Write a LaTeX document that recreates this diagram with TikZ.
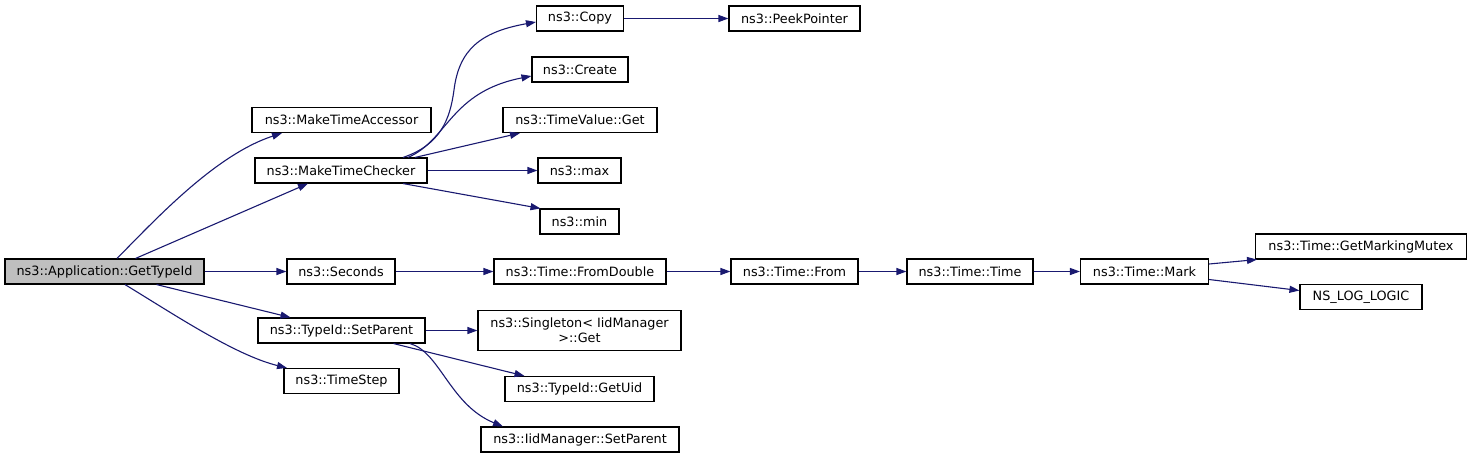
\documentclass[tikz,border=0pt]{standalone}
\usepackage{fontspec}
\setmainfont{DejaVu Sans}
\usetikzlibrary{arrows.meta}
\definecolor{edgecol}{HTML}{191970}
\definecolor{rootfill}{HTML}{BFBFBF}
\begin{document}
\begin{tikzpicture}[x=1pt,y=-1pt,
  box/.style={draw=black, line width=1.1pt, fill=white, inner sep=0pt,
    minimum height=25pt, font=\fontsize{12.8}{14.7}\selectfont, align=center},
  call/.style={draw=edgecol, line width=1.1pt, -{Triangle[length=10pt,width=7pt]}},
]
\useasboundingbox (0,0) rectangle (1472,459);

\node[box, fill=rootfill, minimum width=199pt] (gt) at (104.5,271.5) {ns3::Application::GetTypeId};
\node[box, minimum width=179pt] (mta) at (341.5,120) {ns3::MakeTimeAccessor};
\node[box, minimum width=172pt] (mtc) at (341,170.5) {ns3::MakeTimeChecker};
\node[box, minimum width=108pt] (sec) at (341,271.5) {ns3::Seconds};
\node[box, minimum width=167pt] (sp) at (341.5,330.5) {ns3::TypeId::SetParent};
\node[box, minimum width=115pt] (ts) at (341.5,381) {ns3::TimeStep};
\node[box, minimum width=87pt] (copy) at (580,18.5) {ns3::Copy};
\node[box, minimum width=131pt] (peek) at (794.5,18.5) {ns3::PeekPointer};
\node[box, minimum width=96pt] (create) at (580,69.5) {ns3::Create};
\node[box, minimum width=154pt] (tvg) at (580,120) {ns3::TimeValue::Get};
\node[box, minimum width=83pt] (max) at (579.5,170.5) {ns3::max};
\node[box, minimum width=79pt] (min) at (579.5,221.5) {ns3::min};
\node[box, minimum width=172pt] (fd) at (580,271.5) {ns3::Time::FromDouble};
\node[box, minimum width=127pt] (from) at (794.5,271.5) {ns3::Time::From};
\node[box, minimum width=203pt, minimum height=40pt] (single) at (579.5,330.5) {ns3::Singleton< IidManager\\>::Get};
\node[box, minimum width=149pt] (uid) at (579.5,389) {ns3::TypeId::GetUid};
\node[box, minimum width=198pt] (iid) at (580,439.5) {ns3::IidManager::SetParent};
\node[box, minimum width=126pt] (tt) at (970,271.5) {ns3::Time::Time};
\node[box, minimum width=128pt] (mark) at (1144.5,271.5) {ns3::Time::Mark};
\node[box, minimum width=211pt] (gmm) at (1361,246.5) {ns3::Time::GetMarkingMutex};
\node[box, minimum width=122pt] (nll) at (1361,297) {NS\_LOG\_LOGIC};

% from GetTypeId
\draw[call] ([xshift=12.5pt]gt.north) .. controls (155,220) and (215,155) .. ([xshift=-59.5pt]mta.south);
\draw[call] ([xshift=31pt]gt.north) -- ([xshift=-33pt]mtc.south);
\draw[call] (gt.east) -- (sec.west);
\draw[call] ([xshift=52pt]gt.south) -- ([xshift=-51pt]sp.north);
\draw[call] ([xshift=20.5pt]gt.south) .. controls (175,315) and (235,355) .. ([xshift=-54.5pt]ts.north);

% from MakeTimeChecker
\draw[call] ([xshift=62pt]mtc.north) .. controls (440,145) and (450,120) .. (454,90)
  .. controls (459,50) and (480,32) .. ([yshift=-3.5pt]copy.west);
\draw[call] ([xshift=67pt]mtc.north) .. controls (448,140) and (450,92) .. ([yshift=-6.5pt]create.west);
\draw[call] ([xshift=74pt]mtc.north) -- ([xshift=-60pt]tvg.south);
\draw[call] (mtc.east) -- (max.west);
\draw[call] ([xshift=62pt]mtc.south) -- ([xshift=-39pt]min.north);

\draw[call] (copy.east) -- (peek.west);

% time chain
\draw[call] (sec.east) -- (fd.west);
\draw[call] (fd.east) -- (from.west);
\draw[call] (from.east) -- (tt.west);
\draw[call] (tt.east) -- (mark.west);
\draw[call] ([yshift=7.5pt]mark.east) -- ([xshift=-104pt]gmm.south);
\draw[call] ([yshift=-8pt]mark.east) -- ([yshift=6.5pt]nll.west);

% from SetParent
\draw[call] (sp.east) -- (single.west);
\draw[call] ([xshift=52pt]sp.south) -- ([xshift=-55pt]uid.north);
\draw[call] ([xshift=68.5pt]sp.south) .. controls (440,352) and (450,405) .. ([xshift=-77pt]iid.north);
\end{tikzpicture}
\end{document}
